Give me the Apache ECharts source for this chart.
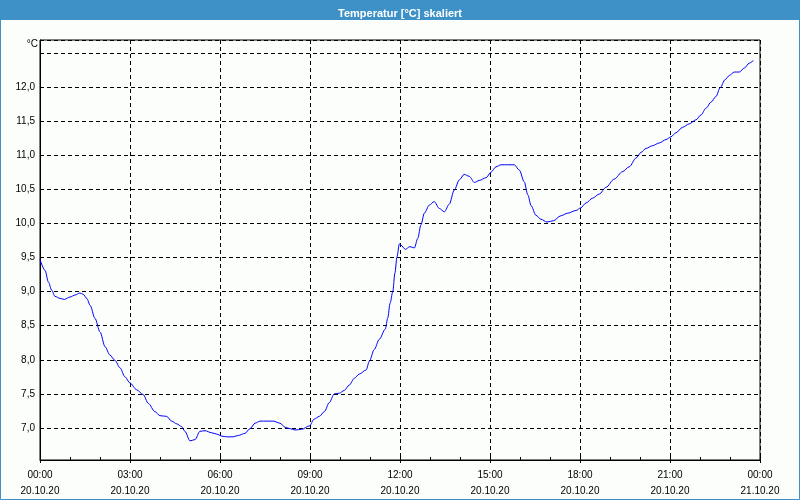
<!DOCTYPE html>
<html><head><meta charset="utf-8">
<script src="https://cdn.jsdelivr.net/npm/echarts@6/dist/echarts.min.js"></script>
<style>html,body{margin:0;padding:0;background:#fcfefc}#c{width:800px;height:500px}</style>
</head><body><div id="c"></div>
<script>
const hours=[0,0.17,0.28,0.39,0.5,0.67,0.81,1.0,1.17,1.33,1.44,1.56,1.67,1.83,2.0,2.17,2.33,2.5,2.67,2.83,3.0,3.22,3.44,3.61,3.83,4.0,4.22,4.39,4.56,4.72,4.83,5.0,5.17,5.33,5.5,5.72,5.89,6.06,6.22,6.44,6.61,6.83,7.0,7.17,7.33,7.56,7.78,8.0,8.17,8.33,8.5,8.72,8.98,9.14,9.31,9.48,9.64,9.81,9.98,10.14,10.31,10.48,10.64,10.87,10.98,11.14,11.31,11.51,11.59,11.67,11.76,11.83,11.9,11.98,12.03,12.18,12.33,12.48,12.59,12.7,12.81,12.98,13.14,13.31,13.48,13.64,13.81,13.98,14.14,14.31,14.48,14.64,14.87,15.03,15.2,15.37,15.59,15.81,15.98,16.14,16.26,16.37,16.53,16.7,16.9,17.12,17.35,17.59,17.87,18.03,18.2,18.42,18.64,18.87,19.14,19.42,19.64,19.87,20.03,20.2,20.42,20.64,20.87,21.03,21.2,21.42,21.64,21.87,22.03,22.2,22.37,22.53,22.67,22.84,22.98,23.14,23.31,23.48,23.64,23.78];
const temps=[9.47,9.31,9.14,9.02,8.93,8.90,8.885,8.92,8.95,8.98,8.96,8.90,8.80,8.61,8.41,8.19,8.07,7.99,7.88,7.75,7.66,7.56,7.49,7.36,7.24,7.18,7.17,7.10,7.06,7.02,6.95,6.81,6.83,6.95,6.96,6.93,6.91,6.88,6.87,6.87,6.89,6.92,6.99,7.07,7.10,7.10,7.10,7.07,7.01,6.99,6.97,6.98,7.03,7.13,7.17,7.24,7.37,7.50,7.51,7.55,7.63,7.73,7.79,7.85,7.98,8.15,8.30,8.45,8.61,8.83,9.0,9.27,9.51,9.70,9.68,9.62,9.66,9.64,9.78,9.98,10.15,10.27,10.32,10.22,10.17,10.28,10.49,10.64,10.72,10.69,10.60,10.63,10.67,10.75,10.83,10.86,10.86,10.86,10.78,10.61,10.42,10.26,10.12,10.06,10.02,10.04,10.11,10.15,10.19,10.23,10.30,10.37,10.43,10.53,10.65,10.76,10.83,10.96,11.04,11.10,11.14,11.18,11.23,11.27,11.33,11.41,11.46,11.52,11.59,11.69,11.78,11.86,11.99,12.11,12.17,12.22,12.22,12.28,12.35,12.39];
const xTimes=['00:00','03:00','06:00','09:00','12:00','15:00','18:00','21:00','00:00'];
const xDates=['20.10.20','20.10.20','20.10.20','20.10.20','20.10.20','20.10.20','20.10.20','20.10.20','21.10.20'];
const yLabelMin=7.0, yLabelMax=12.0;

const blue='#3d91c7';
const font='Liberation Sans';
const chart=echarts.init(document.getElementById('c'),null,{renderer:'canvas'});
const dashed={color:'#000',width:1,type:[4,3]};
chart.setOption({
  animation:false,
  backgroundColor:'#fcfefc',
  title:{text:'Temperatur [°C] skaliert',left:'center',top:3,textStyle:{color:'#fff',fontSize:11,fontWeight:'bold',fontFamily:font}},
  graphic:[
    {type:'rect',z:-1,shape:{x:0,y:0,width:800,height:20},style:{fill:blue}},
    {type:'rect',z:-1,shape:{x:0.5,y:0.5,width:799,height:499},style:{fill:null,stroke:blue,lineWidth:1}},
    {type:'text',x:38,y:44,style:{text:'°C',align:'right',verticalAlign:'middle',fontSize:10,fontFamily:font,fill:'#000'}}
  ],
  grid:{left:40,right:40,top:40,bottom:40,show:true,borderColor:'#000',borderWidth:1,backgroundColor:'transparent'},
  xAxis:[{
    type:'value',min:0,max:24,interval:3,position:'bottom',
    axisLine:{onZero:false,lineStyle:{color:'#000',width:1}},
    axisTick:{show:true,inside:false,length:3,lineStyle:{color:'#000'}},
    axisLabel:{margin:7,lineHeight:16,fontSize:10,fontFamily:font,color:'#000',
      formatter:v=>{const i=Math.round(v/3);return xTimes[i]+'\n'+xDates[i];}},
    splitLine:{show:true,lineStyle:dashed}
  },{
    type:'value',min:0,max:24,interval:1,position:'bottom',
    axisLine:{show:false,onZero:false},
    axisTick:{show:true,inside:true,length:3,lineStyle:{color:'#000'}},
    axisLabel:{show:false},splitLine:{show:false}
  }],
  yAxis:{
    type:'value',min:6.53,max:12.69,splitNumber:12,
    axisLine:{show:true,lineStyle:{color:'#000',width:1}},
    axisTick:{show:false},
    axisLabel:{margin:5,fontSize:10,fontFamily:font,color:'#000',
      formatter:v=>{const r=Math.round(v*2)/2;return (Math.abs(v-r)<0.001&&v>=yLabelMin-0.01&&v<=yLabelMax+0.01)?v.toFixed(1).replace('.',','):'';}},
    splitLine:{show:true,lineStyle:dashed}
  },
  series:[{
    type:'line',xAxisIndex:0,showSymbol:false,smooth:0.3,smoothMonotone:'x',
    lineStyle:{color:'#0000ff',width:1},
    data:hours.map((h,i)=>[h,temps[i]])
  }]
});
</script></body></html>
